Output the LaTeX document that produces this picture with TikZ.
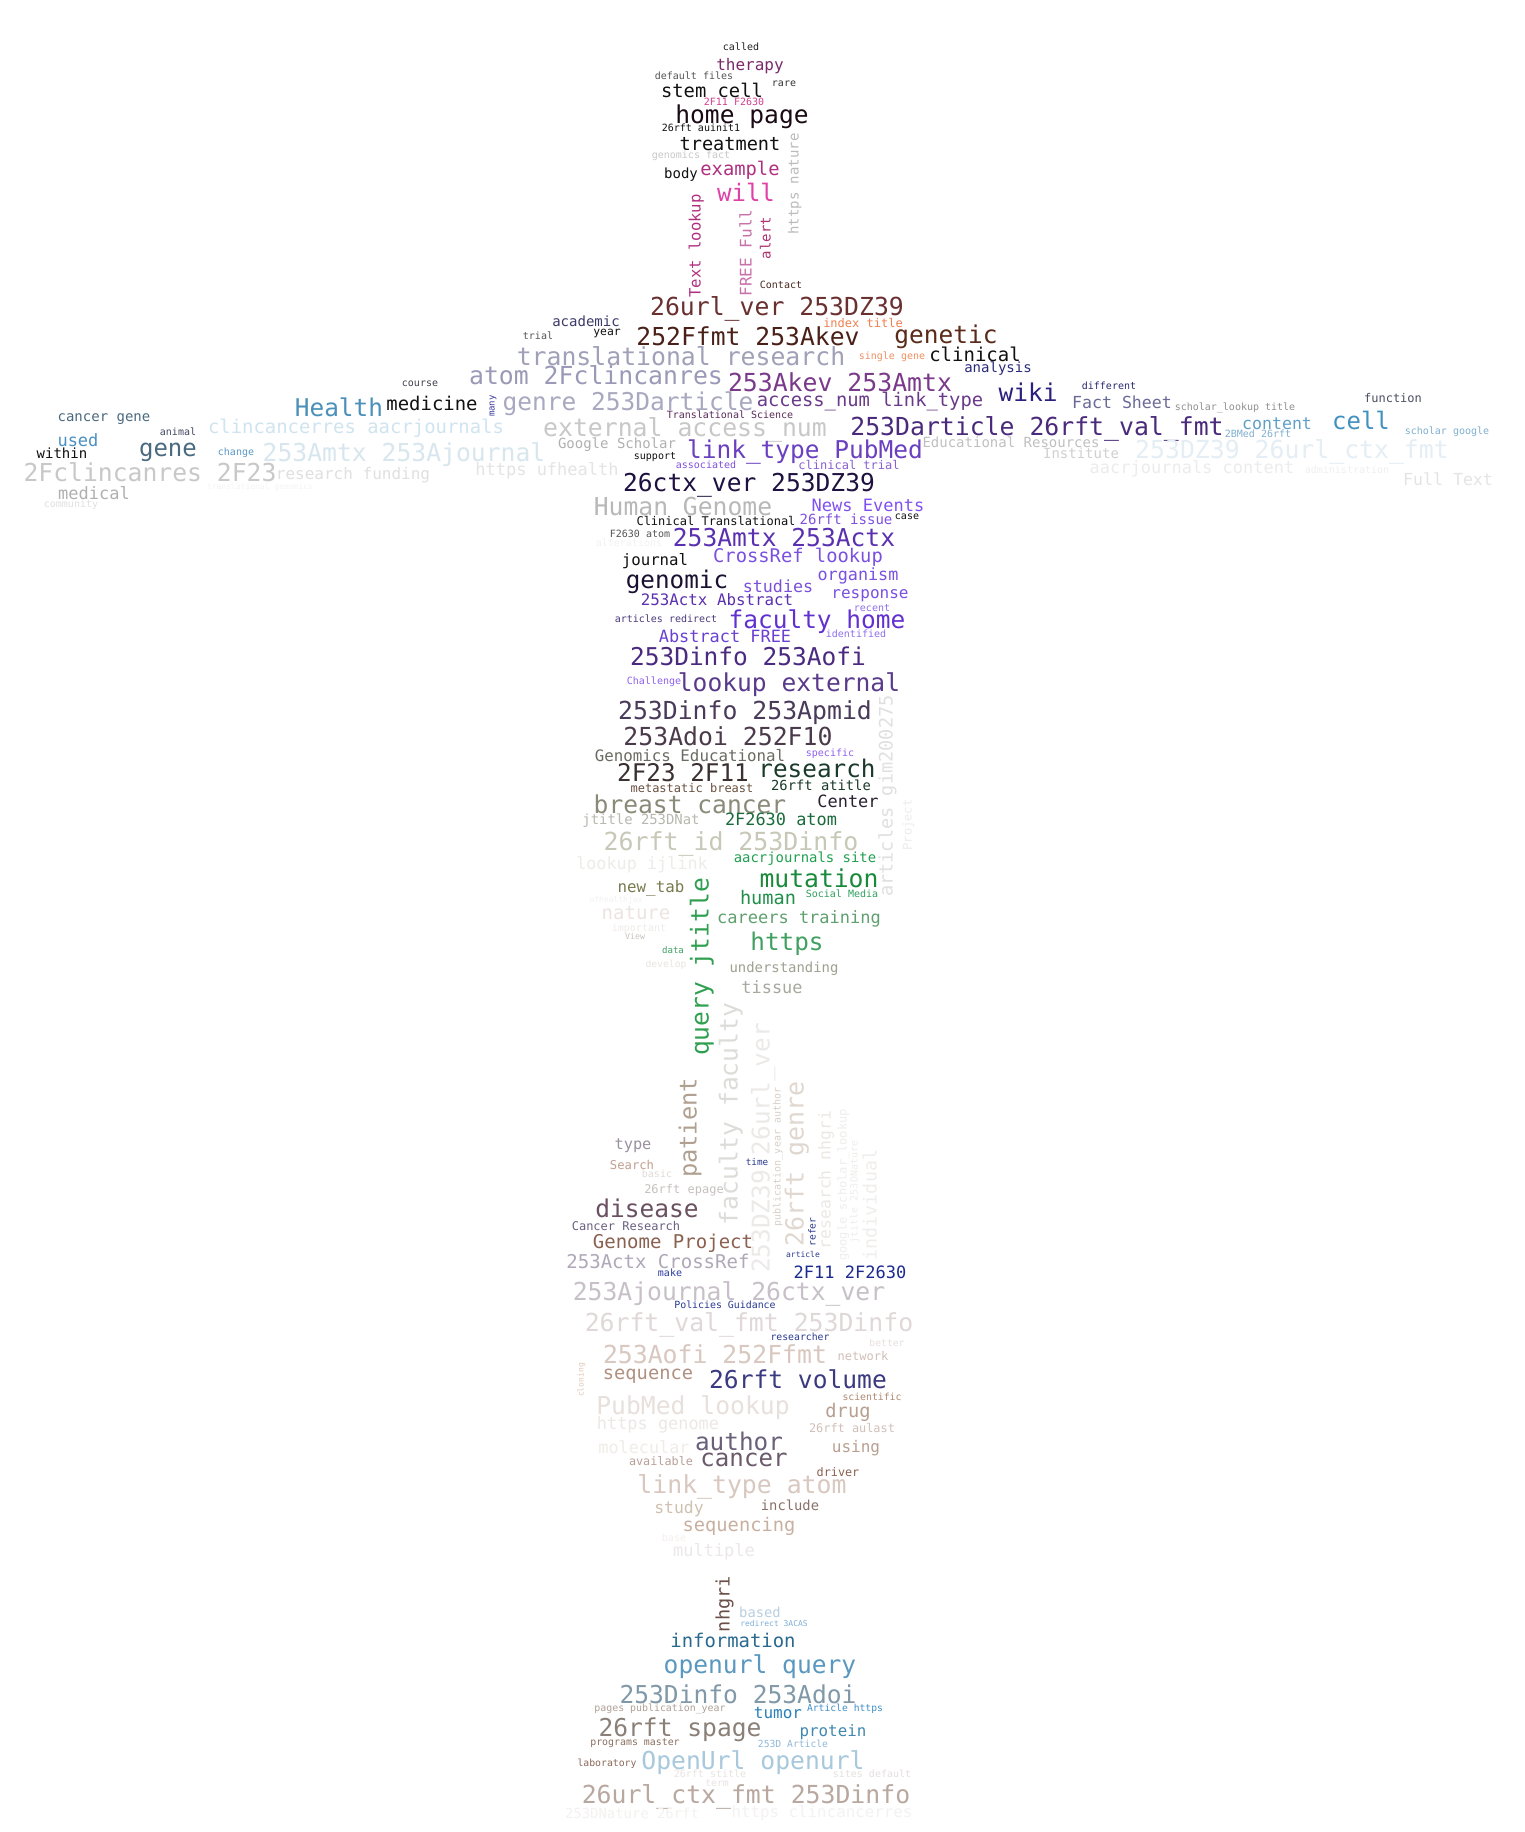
\documentclass[tikz,border=0pt]{standalone}
\usepackage{fontspec}
\setmainfont{DejaVu Sans Mono}
\usepackage{xcolor}
\newcounter{wn}
\tikzset{word/.style={inner sep=0pt, outer sep=0pt, anchor=mid}}
\newcommand\W[6]{\stepcounter{wn}\definecolor{wcur}{HTML}{#4}%
  \node[word, yshift={-0.22*#3*(1-#5/90)}, rotate=#5, text=wcur, font={\fontsize{#3}{#3}\selectfont}] (w\thewn) at (#1,#2) {#6};}
\begin{document}
\begin{tikzpicture}[x=1pt,y=-1pt]
\fill[white] (0,0) rectangle (1524,1832);
\useasboundingbox (0,0) rectangle (1524,1832);
% head
\W{741}{46}{10}{222222}{0}{called}
\W{750}{64}{16}{7A2A6A}{0}{therapy}
\W{694}{75}{10}{555555}{0}{default files}
\W{784}{82}{10}{333333}{0}{rare}
\W{712}{91}{18.8}{111111}{0}{stem cell}
\W{734}{101}{10}{D04090}{0}{2F11 F2630}
\W{742}{115}{24.6}{1A0A14}{0}{home page}
\W{701}{127}{10}{111111}{0}{26rft auinit1}
\W{730}{144}{18.6}{111111}{0}{treatment}
\W{691}{154}{10}{C8C8C8}{0}{genomics fact}
\W{681}{173}{14}{111111}{0}{body}
\W{740}{169}{18.8}{B03080}{0}{example}
\W{746}{193}{24}{E040A8}{0}{will}
\W{796}{184}{14}{BBBBBB}{90}{https nature}
\W{698}{246}{15.6}{B03080}{90}{Text lookup}
\W{749}{253}{16}{C870A8}{90}{FREE Full}
\W{768}{238}{14}{B03070}{90}{alert}
\W{781}{284}{10}{4A2A20}{0}{Contact}
\W{777}{307}{24.8}{6A3030}{0}{26url\_ver 253DZ39}
% shoulders
\W{863}{322}{12}{F08050}{0}{index title}
\W{586}{321}{14}{3A3A6A}{0}{academic}
\W{607}{330}{11.4}{111111}{0}{year}
\W{538}{335}{10}{555555}{0}{trial}
\W{748}{337}{24.7}{4A2018}{0}{252Ffmt 253Akev}
\W{946}{335}{24.5}{5A2A1A}{0}{genetic}
\W{892}{355}{10}{F09060}{0}{single gene}
\W{975}{355}{19}{111111}{0}{clinical}
\W{681}{357}{24.8}{A0A0B8}{0}{translational research}
\W{998}{367}{14}{2A2A7A}{0}{analysis}
\W{596}{376}{24.8}{9A9AB8}{0}{atom 2Fclincanres}
\W{840}{383}{24.8}{7A3A8A}{0}{253Akev 253Amtx}
\W{628}{402}{24.5}{A8A8C0}{0}{genre 253Darticle}
\W{870}{400}{18.8}{6A3A8A}{0}{access\_num link\_type}
\W{492}{406}{9}{3A3AA0}{90}{many}
\W{730}{414}{10}{5A2A5A}{0}{Translational Science}
\W{1037}{427}{24.8}{4A2A7A}{0}{253Darticle 26rft\_val\_fmt}
\W{685}{428}{24.8}{C8C8C8}{0}{external access\_num}
\W{617}{443}{14}{B0B0B0}{0}{Google Scholar}
\W{805}{450}{24.5}{6A40C0}{0}{link\_type PubMed}
\W{1011}{442}{14}{C0C0C0}{0}{Educational Resources}
\W{655}{455}{10}{111111}{0}{support}
\W{706}{464}{10}{8050E0}{0}{associated}
\W{849}{464}{12}{8A60D0}{0}{clinical trial}
\W{547}{469}{17}{E4E4E4}{0}{https ufhealth}
\W{749}{483}{24.6}{1E1040}{0}{26ctx\_ver 253DZ39}
% right arm
\W{1028}{393}{24.5}{2A2080}{0}{wiki}
\W{1109}{385}{10}{2A2A70}{0}{different}
\W{1122}{402}{16.6}{6A6A98}{0}{Fact Sheet}
\W{1235}{406}{10}{909090}{0}{scholar\_lookup title}
\W{1393}{397}{12}{4A5060}{0}{function}
\W{1277}{423}{16.6}{60A0C8}{0}{content}
\W{1361}{421}{24}{4090C0}{0}{cell}
\W{1258}{433}{10}{80B0D0}{0}{2BMed 26rft}
\W{1447}{430}{10}{80B0D0}{0}{scholar google}
\W{1081}{453}{14}{D0D0D0}{0}{Institute}
\W{1292}{450}{24.8}{E4EEF4}{0}{253DZ39 26url\_ctx\_fmt}
\W{1192}{467}{17}{ECECEC}{0}{aacrjournals content}
\W{1347}{469}{10}{F0F0F0}{0}{administration}
\W{1448}{479}{16.6}{E4E4E4}{0}{Full Text}
% left arm
\W{420}{382}{10}{404050}{0}{course}
\W{339}{408}{24.4}{4A90B8}{0}{Health}
\W{432}{404}{18.9}{111111}{0}{medicine}
\W{104}{416}{14}{4A6A80}{0}{cancer gene}
\W{178}{431}{10}{404A60}{0}{animal}
\W{356}{427}{18.9}{D0E4F0}{0}{clincancerres aacrjournals}
\W{78}{440}{17}{4A90C0}{0}{used}
\W{62}{453}{14}{111111}{0}{within}
\W{168}{448}{24}{4A6A80}{0}{gene}
\W{236}{451}{10}{5A9AC8}{0}{change}
\W{404}{453}{24.7}{D8E6EE}{0}{253Amtx 253Ajournal}
\W{150}{473}{24.7}{C8C8C8}{0}{2Fclincanres 2F23}
\W{353}{473}{16}{E0E0E0}{0}{research funding}
\W{260}{485}{8}{F4F4F4}{0}{translational genomics}
\W{94}{493}{17}{B0B0B0}{0}{medical}
\W{71}{503}{10}{E0E0E0}{0}{community}
% torso
\W{683}{507}{24.7}{B8B8B8}{0}{Human Genome}
\W{868}{505}{17}{8050F0}{0}{News Events}
\W{716}{520}{12}{111111}{0}{Clinical Translational}
\W{846}{519}{14}{8050E0}{0}{26rft issue}
\W{907}{515}{10}{111111}{0}{case}
\W{640}{533}{10}{555555}{0}{F2630 atom}
\W{629}{542}{10}{F2F2F2}{0}{alterations}
\W{784}{538}{24.6}{5A30B0}{0}{253Amtx 253Actx}
\W{655}{559}{15.7}{111111}{0}{journal}
\W{798}{556}{18.8}{7A50E0}{0}{CrossRef lookup}
\W{677}{580}{24.3}{1A1030}{0}{genomic}
\W{858}{574}{16.8}{7A50E0}{0}{organism}
\W{778}{586}{16.7}{7A50D8}{0}{studies}
\W{870}{592}{16}{7A50E0}{0}{response}
\W{717}{599}{15.8}{5A30B0}{0}{253Actx Abstract}
\W{872}{607}{10}{9070F0}{0}{recent}
\W{666}{618}{10}{4A3A7A}{0}{articles redirect}
\W{817}{620}{24.5}{6030D0}{0}{faculty home}
\W{856}{633}{10}{9070F0}{0}{identified}
\W{725}{636}{16.9}{6A40D0}{0}{Abstract FREE}
\W{748}{657}{24.5}{4A2A80}{0}{253Dinfo 253Aofi}
\W{654}{680}{10}{9060F0}{0}{Challenge}
\W{789}{683}{24.6}{5A3A8A}{0}{lookup external}
\W{745}{711}{24.8}{4A3A5A}{0}{253Dinfo 253Apmid}
\W{728}{737}{24.8}{4A3A4A}{0}{253Adoi 252F10}
\W{890}{796}{18.6}{E0E0E0}{90}{articles gim200275}
\W{909}{825}{12}{ECECEC}{90}{Project}
\W{690}{755}{15.8}{6A6A60}{0}{Genomics Educational}
\W{830}{752}{10}{9060F0}{0}{specific}
\W{683}{773}{24.3}{3A3030}{0}{2F23 2F11}
\W{817}{769}{24.3}{1A3A2A}{0}{research}
\W{692}{787}{12}{6A5040}{0}{metastatic breast}
\W{821}{785}{13.8}{1A3A2A}{0}{26rft atitle}
\W{848}{801}{16.9}{2A2030}{0}{Center}
\W{690}{805}{24.6}{8A8A78}{0}{breast cancer}
\W{641}{819}{13.9}{B8B8B0}{0}{jtitle 253DNat}
\W{781}{819}{16.9}{1A6A3A}{0}{2F2630 atom}
\W{731}{842}{24.9}{C8C8B8}{0}{26rft\_id 253Dinfo}
\W{642}{863}{16.8}{ECECE8}{0}{lookup ijlink}
\W{805}{857}{13.9}{20A050}{0}{aacrjournals site}
\W{819}{879}{24.7}{1A8A3A}{0}{mutation}
\W{651}{886}{15.8}{7A7A50}{0}{new\_tab}
\W{706}{967}{24.6}{30A050}{90}{query jtitle}
\W{842}{893}{10}{30A060}{0}{Social Media}
\W{768}{898}{18.6}{20904A}{0}{human}
\W{616}{898}{8}{F4F0F0}{0}{ufhealthjax}
\W{636}{913}{19}{ECE4E0}{0}{nature}
\W{799}{917}{17}{60A070}{0}{careers training}
\W{639}{927}{10}{F0ECE8}{0}{important}
\W{635}{935}{8.3}{C8C4BC}{0}{View}
\W{787}{942}{24.3}{40A060}{0}{https}
\W{673}{949}{9.1}{40A060}{0}{data}
\W{666}{963}{9.7}{E8E4E0}{0}{develop}
\W{784}{967}{13.9}{A0A090}{0}{understanding}
\W{772}{987}{16.9}{A8A8A0}{0}{tissue}
% legs
\W{735}{1114}{24.6}{DCDCD8}{90}{faculty faculty}
\W{767}{1148}{24.4}{ECEAE8}{90}{253DZ39 26url\_ver}
\W{694}{1128}{23.7}{B0A090}{90}{patient}
\W{778}{1157}{10}{D8D0C8}{90}{publication\_year author}
\W{801}{1164}{24.9}{E0D8D0}{90}{26rft genre}
\W{828}{1180}{16.4}{ECE8E4}{90}{research nhgri}
\W{844}{1185}{12}{F0EEEC}{90}{google scholar\_lookup}
\W{855}{1192}{10}{F0EEEC}{90}{jtitle 253DNature}
\W{874}{1205}{18.3}{F0EEEC}{90}{individual}
\W{757}{1161}{9.3}{2A3A90}{0}{time}
\W{633}{1143}{15.3}{9A90A0}{0}{type}
\W{632}{1164}{12.2}{C0A090}{0}{Search}
\W{657}{1173}{10}{E0DCD8}{0}{basic}
\W{684}{1188}{12}{C8C0C0}{0}{26rft epage}
\W{647}{1209}{24.5}{6A5060}{0}{disease}
\W{626}{1225}{12}{6A6080}{0}{Cancer Research}
\W{813}{1232}{9.6}{2A3A90}{90}{refer}
\W{673}{1242}{19}{8A6050}{0}{Genome Project}
\W{803}{1253}{8}{2A3A90}{0}{article}
\W{658}{1262}{19}{B0A8B8}{0}{253Actx CrossRef}
\W{670}{1272}{10}{2A3AA0}{0}{make}
\W{850}{1272}{17}{1A2A90}{0}{2F11 2F2630}
\W{729}{1292}{24.7}{C8C0C8}{0}{253Ajournal 26ctx\_ver}
\W{725}{1304}{9.9}{2A3A90}{0}{Policies Guidance}
\W{749}{1323}{24.8}{E0D8D8}{0}{26rft\_val\_fmt 253Dinfo}
\W{800}{1336}{9.8}{2A3A90}{0}{researcher}
\W{887}{1342}{9.7}{E8E0DC}{0}{better}
\W{715}{1355}{24.8}{D8C8C0}{0}{253Aofi 252Ffmt}
\W{863}{1355}{12}{D0C0B8}{0}{network}
\W{581}{1380}{8}{E0C8B8}{90}{cloning}
\W{648}{1373}{18.7}{B09080}{0}{sequence}
\W{798}{1380}{24.6}{3A3A80}{0}{26rft volume}
\W{872}{1396}{9.8}{B08870}{0}{scientific}
\W{693}{1406}{24.7}{E8E0DC}{0}{PubMed lookup}
\W{848}{1411}{18.7}{B8A090}{0}{drug}
\W{658}{1423}{16.9}{ECE8E6}{0}{https genome}
\W{852}{1427}{11.9}{D0C0B8}{0}{26rft aulast}
\W{739}{1442}{24.3}{6A6078}{0}{author}
\W{644}{1447}{16.8}{F0ECE8}{0}{molecular}
\W{856}{1446}{16}{B8A090}{0}{using}
\W{744}{1458}{24.1}{6A5A6A}{0}{cancer}
\W{661}{1460}{11.8}{B8A098}{0}{available}
\W{838}{1471}{11.8}{8A6050}{0}{driver}
\W{742}{1485}{24.8}{D8C8C0}{0}{link\_type atom}
\W{679}{1507}{16.4}{D0C0B0}{0}{study}
\W{790}{1505}{13.8}{8A7068}{0}{include}
\W{739}{1525}{18.7}{C8B0A0}{0}{sequencing}
\W{674}{1537}{10}{F4F0EE}{0}{base}
\W{714}{1550}{17}{ECE8E8}{0}{multiple}
\W{727}{1604}{18.6}{6A5048}{90}{nhgri}
\W{760}{1612}{13.8}{B8D0E0}{0}{based}
\W{774}{1622}{8}{80B0D8}{0}{redirect 3ACAS}
\W{733}{1641}{18.9}{2A6A90}{0}{information}
\W{760}{1665}{24.6}{5A98C0}{0}{openurl query}
\W{738}{1695}{24.6}{8098A8}{0}{253Dinfo 253Adoi}
\W{660}{1707}{9.9}{B0A098}{0}{pages publication\_year}
\W{778}{1712}{16}{2A80B8}{0}{tumor}
\W{845}{1707}{9.7}{4090C8}{0}{Article https}
\W{680}{1728}{24.6}{8A8078}{0}{26rft spage}
\W{833}{1730}{15.8}{4088B0}{0}{protein}
\W{635}{1741}{9.9}{8A7060}{0}{programs master}
\W{793}{1743}{9.7}{90B8D8}{0}{253D Article}
\W{607}{1762}{9.8}{8A6858}{0}{laboratory}
\W{753}{1761}{24.7}{A8C8DC}{0}{OpenUrl openurl}
\W{710}{1773}{10}{E8E4E2}{0}{26rft stitle}
\W{872}{1773}{10}{E4E0DE}{0}{sites default}
\W{717}{1782}{9.7}{E8E4E2}{0}{term}
\W{746}{1795}{24.8}{B8A8A0}{0}{26url\_ctx\_fmt 253Dinfo}
\W{632}{1813}{13.9}{F4F2F0}{0}{253DNature 26rft}
\W{822}{1811}{15.8}{F4F2F2}{0}{https clincancerres}
\end{tikzpicture}
\end{document}
